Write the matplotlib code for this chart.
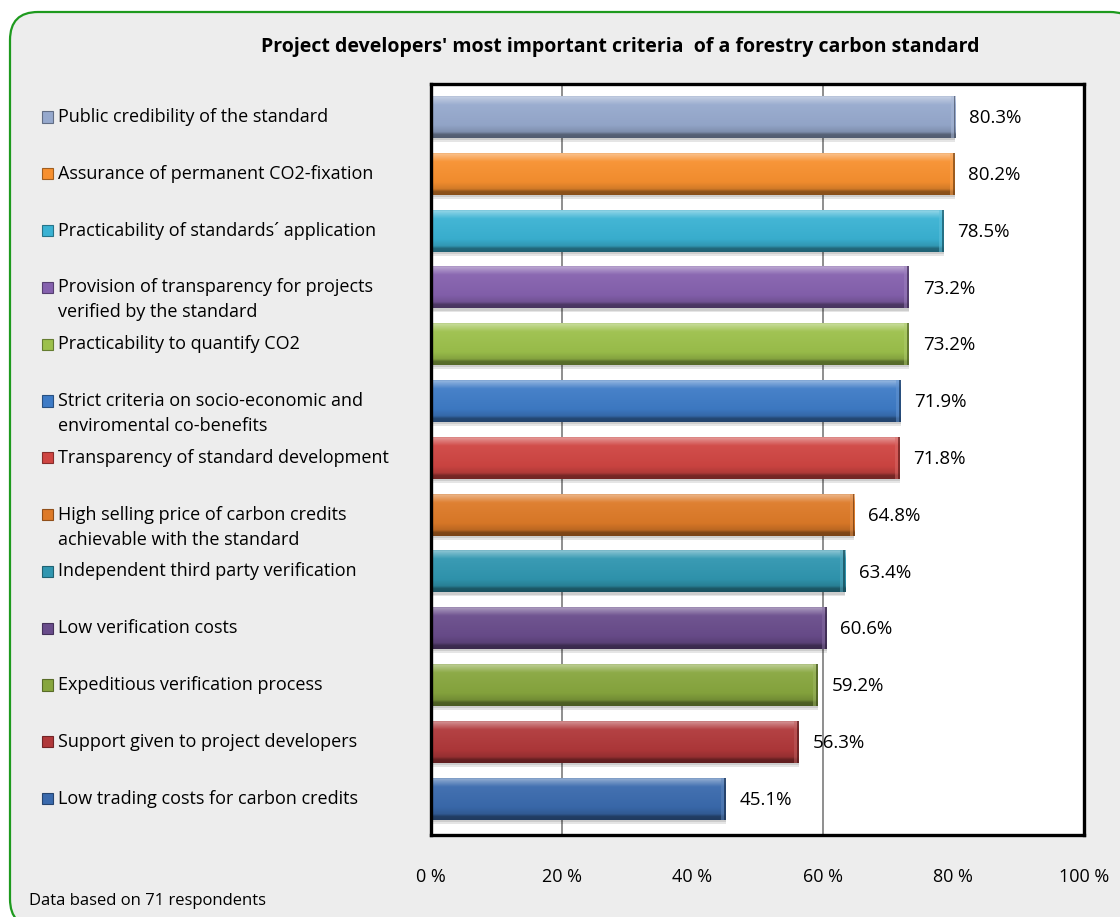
import matplotlib
matplotlib.use("Agg")
import matplotlib.pyplot as plt
import numpy as np
from matplotlib.patches import FancyBboxPatch, Rectangle
from matplotlib.transforms import IdentityTransform, blended_transform_factory
from matplotlib.colors import to_rgb

# ---------------- data ----------------
title = "Project developers' most important criteria  of a forestry carbon standard"
criteria = [
    "Public credibility of the standard",
    "Assurance of permanent CO2-fixation",
    "Practicability of standards\u00b4 application",
    "Provision of transparency for projects\nverified by the standard",
    "Practicability to quantify CO2",
    "Strict criteria on socio-economic and\nenviromental co-benefits",
    "Transparency of standard development",
    "High selling price of carbon credits\nachievable with the standard",
    "Independent third party verification",
    "Low verification costs",
    "Expeditious verification process",
    "Support given to project developers",
    "Low trading costs for carbon credits",
]
values = [80.3, 80.2, 78.5, 73.2, 73.2, 71.9, 71.8, 64.8, 63.4, 60.6, 59.2, 56.3, 45.1]
colors = ['#96A9CD', '#F7902F', '#3AB2D3', '#8561AE', '#9CC04B', '#3E7BC6', '#CF4542',
          '#DD7A28', '#3096B0', '#694C8B', '#87A63E', '#B0383A', '#3A6AAD']
xticks = [0, 20, 40, 60, 80, 100]
xtick_labels = ["0 %", "20 %", "40 %", "60 %", "80 %", "100 %"]
grid_positions = [20, 60]
tickmark_positions = [0, 20, 60, 100]
footnote = "Data based on 71 respondents"

FONT = ["Open Sans", "DejaVu Sans"]
plt.rcParams['font.family'] = FONT

W, H = 1120, 917
fig = plt.figure(figsize=(W / 100, H / 100), dpi=100, facecolor='white')

# rounded green frame
frame = FancyBboxPatch((10, -10), 1128, 917 - 12 + 10, boxstyle="round,pad=0,rounding_size=28",
                       transform=IdentityTransform(), facecolor='#EDEDED', edgecolor='#1E9A1E',
                       linewidth=1.6, zorder=-5)
fig.patches.append(frame)

ax_l, ax_r, ax_t, ax_b = 431, 1084, 84, 835
ax = fig.add_axes([ax_l / W, 1 - ax_b / H, (ax_r - ax_l) / W, (ax_b - ax_t) / H])
ax.set_zorder(1)
ax.set_facecolor('white')

n = len(values)
y = np.arange(n)
bh = 0.74
slot_px = 56.8
span = (ax_b - ax_t) / slot_px
y_top = -(117 - ax_t) / slot_px
y_bot = y_top + span


def shade(rgb, f):
    rgb = np.array(rgb)
    if f >= 0:
        return rgb + (1 - rgb) * f
    return rgb * (1 + f)


stops = [(0.0, -0.15), (0.03, 0.45), (0.10, 0.30), (0.22, 0.05), (0.70, -0.03),
         (0.86, -0.15), (0.92, -0.42), (1.0, -0.45)]
ts = np.linspace(0, 1, 80)

# shadows
ax.barh(y + 0.07, values, height=bh, color='#000000', alpha=0.10, zorder=2, linewidth=0)
ax.barh(y + 0.04, values, height=bh, color='#000000', alpha=0.10, zorder=2, linewidth=0)

bars = ax.barh(y, values, height=bh, color=colors, zorder=3, linewidth=0)
for b, col in zip(bars, colors):
    base = to_rgb(col)
    grad = np.zeros((len(ts), 2, 3))
    for ch in range(3):
        keys_t = [s[0] for s in stops]
        keys_v = [shade(base, s[1])[ch] for s in stops]
        grad[:, :, ch] = np.interp(ts, keys_t, keys_v)[:, None]
    x0, yb, w, h = b.get_x(), b.get_y(), b.get_width(), b.get_height()
    im = ax.imshow(grad, extent=[x0, x0 + w, yb + h, yb], aspect='auto', origin='upper',
                   interpolation='bilinear', zorder=4)
    im.set_clip_path(b)
    # right end bevel
    ax.add_patch(Rectangle((x0 + w - 0.7, yb), 0.45, h, facecolor=shade(base, 0.2),
                           alpha=0.5, zorder=5, linewidth=0))
    ax.add_patch(Rectangle((x0 + w - 0.25, yb), 0.25, h, facecolor=shade(base, -0.45),
                           alpha=0.8, zorder=5, linewidth=0))

ax.set_xlim(0, 100)
ax.set_ylim(y_bot, y_top)
ax.set_xticks(xticks)
ax.set_xticklabels(xtick_labels, fontsize=13)
ax.set_yticks([])
ax.tick_params(axis='x', which='major', length=0, pad=24)
ax.set_xticks(tickmark_positions, minor=True)
ax.tick_params(axis='x', which='minor', direction='out', length=5, color='#868686', width=1)
for g in grid_positions:
    ax.axvline(g, color='#868686', linewidth=1.3, zorder=1)
for sp in ax.spines.values():
    sp.set_linewidth(2.4)
    sp.set_color('black')
    sp.set_zorder(6)

# data labels
for yi, v in zip(y, values):
    ax.text(v + 2.1, yi + 0.02, f"{v:.1f}%", va='center', ha='left', fontsize=13.5,
            color='black', zorder=7)

# legend-like labels on the left
tr = blended_transform_factory(fig.transFigure, ax.transData)
line_gap = 25 / slot_px
for yi, lab, col in zip(y, criteria, colors):
    lines = lab.split("\n")
    for k, ln in enumerate(lines):
        ax.text(58 / W, yi + k * line_gap, ln, transform=tr, va='center', ha='left',
                fontsize=13, color='black', clip_on=False)
    ax.add_patch(Rectangle((42 / W, yi - 0.1), 11 / W, 0.2, transform=tr, clip_on=False,
                           facecolor=col, edgecolor=shade(to_rgb(col), -0.35), linewidth=0.8))

fig.text(620 / W, 1 - 47 / H, title, ha='center', va='center', fontsize=14,
         fontweight='bold', color='black')
fig.text(29 / W, 1 - 901 / H, footnote, ha='left', va='center', fontsize=12, color='black')

fig.savefig("out.png", dpi=100, facecolor='white')
